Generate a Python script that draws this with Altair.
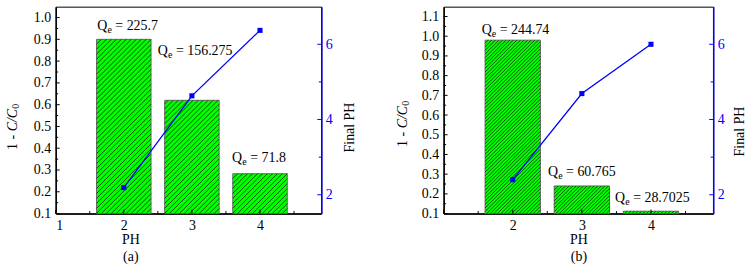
import altair as alt
import pandas as pd

# ---------------- data ----------------
ph = [2, 3, 4]
removal_a = [0.90, 0.62, 0.283]
removal_b = [0.98, 0.24, 0.112]
final_ph_a = [2.19, 4.63, 6.37]
final_ph_b = [2.40, 4.69, 6.00]
qe_a = ["225.7", "156.275", "71.8"]
qe_b = ["244.74", "60.765", "28.7025"]
qe_x_a = [1.61, 2.50, 3.59]
qe_y_a = [0.943, 0.826, 0.339]
qe_x_b = [1.55, 2.51, 3.48]
qe_y_b = [1.012, 0.289, 0.157]

x_ticks = [1, 2, 3, 4]
x_minor = [1.5, 2.5, 3.5, 4.5]
left_ticks_a = [0.1, 0.2, 0.3, 0.4, 0.5, 0.6, 0.7, 0.8, 0.9, 1.0]
left_minor_a = [0.15, 0.25, 0.35, 0.45, 0.55, 0.65, 0.75, 0.85, 0.95]
left_ticks_b = [0.1, 0.2, 0.3, 0.4, 0.5, 0.6, 0.7, 0.8, 0.9, 1.0, 1.1]
left_minor_b = [0.15, 0.25, 0.35, 0.45, 0.55, 0.65, 0.75, 0.85, 0.95, 1.05]
right_ticks = [2, 4, 6]
right_minor = [3, 5]

FONT = "Liberation Serif"
FS = 14
SUB = 10
BLUE = "#0000ff"
H = 208
XDOM = [1, 4.9]
RDOM = [1.5, 7]


def panel(removal, fph, qe, qx, qy, ydom, ltick, lminor, W, hatch_s,
          title_x, ytitle_x, ytitle_start, rtitle_x, rtitle_y, tag, hide_one):
    ymin = ydom[0]
    sx = W / (XDOM[1] - XDOM[0])
    sy = H / (ydom[1] - ydom[0])

    x_axis = alt.Axis(values=x_ticks, title=["PH", tag], titleX=title_x, titleY=19,
                      titleBaseline="top", titleAlign="center", titleLineHeight=17,
                      titleFont=FONT, titleFontSize=FS, titleFontWeight="normal", titleColor="black",
                      labelFont=FONT, labelFontSize=FS, labelColor="black",
                      labelPadding=5, ticks=False, grid=False, domainColor="black", domainWidth=1.5,
                      labelExpr="datum.value == 1 ? '' : datum.label" if hide_one else "datum.label")
    xs = alt.Scale(domain=XDOM, nice=False, zero=False)
    ys = alt.Scale(domain=ydom, nice=False, zero=False)
    rs = alt.Scale(domain=RDOM, nice=False, zero=False)
    y_axis = alt.Axis(values=ltick, format=".1f", title=None, orient="left",
                      labelFont=FONT, labelFontSize=FS, labelColor="black", grid=False,
                      labelPadding=5, ticks=False, domainColor="black", domainWidth=1.5)
    r_axis = alt.Axis(values=right_ticks, orient="right", title="Final PH", titleColor="black",
                      titleFont=FONT, titleFontSize=FS, titleFontWeight="normal",
                      titleAngle=270, titleX=rtitle_x, titleY=rtitle_y, titleBaseline="middle",
                      titleAlign="center", labelColor=BLUE, labelFont=FONT, labelFontSize=FS,
                      domainColor=BLUE, domainWidth=1.5, grid=False,
                      ticks=False, labelPadding=4)

    def X(f):
        return alt.X(f, type="quantitative", scale=xs, axis=x_axis)

    def Y(f):
        return alt.Y(f, type="quantitative", scale=ys, axis=y_axis)

    def RY(f):
        return alt.Y(f, type="quantitative", scale=rs, axis=r_axis)

    bars_df = pd.DataFrame({"ph": ph, "value": removal})
    bars = alt.Chart(bars_df).transform_calculate(
        x0="datum.ph - 0.4", x1="datum.ph + 0.4"
    ).mark_bar(color="#00ff00", stroke="#666666", strokeWidth=1).encode(
        x=X("x0"), x2="x1", y=Y("value"), y2=alt.datum(ymin)
    )

    hatch = alt.Chart(bars_df).transform_calculate(
        k="sequence(0, 90)"
    ).transform_flatten(["k"]).transform_calculate(
        wpx=f"{0.8 * sx}",
        hpx=f"(datum.value - {ymin}) * {sy}",
    ).transform_calculate(
        c=f"-datum.wpx + datum.k * {hatch_s}",
    ).transform_calculate(
        u1="max(0, -datum.c)",
        u2="min(datum.wpx, datum.hpx - datum.c)",
    ).transform_filter("datum.u2 > datum.u1").transform_calculate(
        hx=f"datum.ph - 0.4 + datum.u1 / {sx}",
        hy=f"{ymin} + (datum.u1 + datum.c) / {sy}",
        hx2=f"datum.ph - 0.4 + datum.u2 / {sx}",
        hy2=f"{ymin} + (datum.u2 + datum.c) / {sy}",
    ).mark_rule(color="#0a2a00", strokeWidth=0.9, opacity=0.9).encode(
        x=X("hx"), x2="hx2", y=Y("hy"), y2="hy2"
    )

    lt = alt.Chart(pd.DataFrame({"v": ltick})).mark_rule(color="black", strokeWidth=1).encode(
        y=Y("v"), x=alt.value(0), x2=alt.value(4))
    lm = alt.Chart(pd.DataFrame({"v": lminor})).mark_rule(color="black", strokeWidth=1).encode(
        y=Y("v"), x=alt.value(0), x2=alt.value(2.5))
    bt = alt.Chart(pd.DataFrame({"v": x_ticks})).mark_rule(color="black", strokeWidth=1).encode(
        x=X("v"), y=alt.value(H), y2=alt.value(H - 4))
    bm = alt.Chart(pd.DataFrame({"v": x_minor})).mark_rule(color="black", strokeWidth=1).encode(
        x=X("v"), y=alt.value(H), y2=alt.value(H - 2.5))

    ann_df = pd.DataFrame({"x": qx, "y": qy, "q": qe})
    base_ann = alt.Chart(ann_df)
    aq = base_ann.mark_text(text="Q", align="left", baseline="alphabetic", font=FONT,
                            fontSize=FS, color="black").encode(x=X("x"), y=Y("y"))
    ae = base_ann.mark_text(text="e", align="left", baseline="alphabetic", font=FONT,
                            fontStyle="normal", fontSize=SUB, dx=10.2, dy=3, color="black").encode(
        x=X("x"), y=Y("y"))
    av = base_ann.mark_text(align="left", baseline="alphabetic", font=FONT,
                            fontSize=FS, dx=18.2, color="black").encode(
        x=X("x"), y=Y("y"), text=alt.Text("label:N")
    ).transform_calculate(label="'= ' + datum.q")

    one = alt.Data(values=[{"a": 1}])
    t1 = alt.Chart(one).mark_text(text="1 - ", angle=270, align="left", baseline="middle",
                                  font=FONT, fontSize=FS, color="black").encode(
        x=alt.value(ytitle_x), y=alt.value(ytitle_start))
    t2 = alt.Chart(one).mark_text(text="C/C", angle=270, align="left", baseline="middle",
                                  font=FONT, fontSize=FS, fontStyle="italic", color="black").encode(
        x=alt.value(ytitle_x), y=alt.value(ytitle_start - 18.7))
    t3 = alt.Chart(one).mark_text(text="0", angle=270, align="left", baseline="middle",
                                  font=FONT, fontSize=SUB, dy=3.5, color="black").encode(
        x=alt.value(ytitle_x), y=alt.value(ytitle_start - 41.5))

    left = alt.layer(bars, hatch, lt, lm, bt, bm, aq, ae, av, t1, t2, t3)

    line_df = pd.DataFrame({"ph": ph, "fph": fph})
    line = alt.Chart(line_df).mark_line(
        color=BLUE, strokeWidth=1.3,
        point=alt.OverlayMarkDef(shape="square", size=26, filled=True, color=BLUE, opacity=1)
    ).encode(x=X("ph"), y=RY("fph"))
    rt = alt.Chart(pd.DataFrame({"v": right_ticks})).mark_rule(color=BLUE, strokeWidth=1).encode(
        y=RY("v"), x=alt.value(W), x2=alt.value(W - 4))
    rm = alt.Chart(pd.DataFrame({"v": right_minor})).mark_rule(color=BLUE, strokeWidth=1).encode(
        y=RY("v"), x=alt.value(W), x2=alt.value(W - 2.5))
    right = alt.layer(line, rt, rm)

    return alt.layer(left, right).resolve_scale(y="independent").properties(width=W, height=H)


pa = panel(removal_a, final_ph_a, qe_a, qe_x_a, qe_y_a, [0.1, 1.05], left_ticks_a, left_minor_a,
           267, 5.0, 75, -43, 144, 28, 121, "(a)", False)
pb = panel(removal_b, final_ph_b, qe_b, qe_x_b, qe_y_b, [0.1, 1.15], left_ticks_b, left_minor_b,
           271, 3.6, 135.5, -41, 141, 26, 125, "(b)", True)

chart = alt.hconcat(pa, pb, spacing=38).properties(
    padding={"left": 5, "top": 5, "right": 2, "bottom": 0},
    background="white",
).configure_view(stroke="black", strokeWidth=1).configure_axis(
    labelFont=FONT, labelFontSize=FS, labelColor="black", titleFont=FONT, titleFontSize=FS,
    titleFontWeight="normal", titleColor="black", grid=False
)

chart.save("out.html", embed_options={"renderer": "svg", "actions": False})
